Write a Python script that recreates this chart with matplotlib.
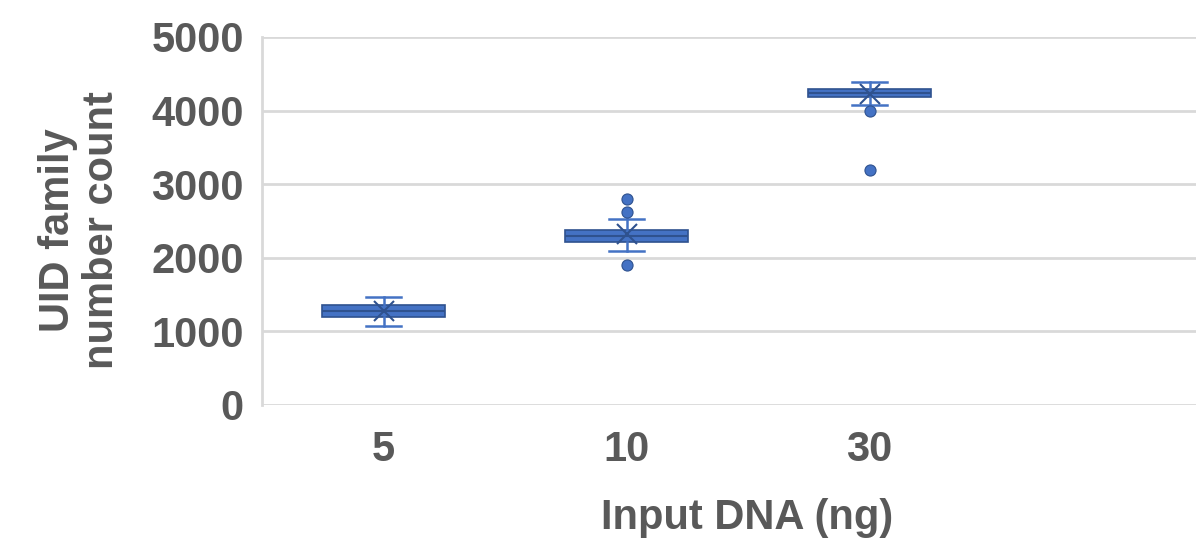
import matplotlib.pyplot as plt

plt.rcParams['font.family'] = ['Liberation Sans', 'DejaVu Sans']

groups = ["5", "10", "30"]
whislo = [1073, 2092, 4076]
q1 = [1196, 2215, 4185]
med = [1277, 2296, 4239]
q3 = [1359, 2378, 4293]
whishi = [1467, 2527, 4389]
means = [1280, 2323, 4230]
fliers = [[], [2799, 2622, 1902], [3995, 3193]]

stats = []
for i in range(len(groups)):
    stats.append(dict(label=groups[i], whislo=whislo[i], q1=q1[i], med=med[i],
                      q3=q3[i], whishi=whishi[i], mean=means[i], fliers=fliers[i]))

fill = "#4472C4"
edge = "#2F528F"
grey = "#595959"

fig = plt.figure(figsize=(11.96, 5.43), dpi=100)
ax = fig.add_axes([262/1196, (543-405)/543, 4*243/1196, 368/543])

ax.bxp(stats, positions=[1, 2, 3], widths=0.506, capwidths=0.148,
       patch_artist=True, showmeans=True, meanline=False,
       boxprops=dict(facecolor=fill, edgecolor=edge, linewidth=1.2),
       medianprops=dict(color=edge, linewidth=1.5),
       whiskerprops=dict(color=fill, linewidth=1.8),
       capprops=dict(color=fill, linewidth=1.8),
       meanprops=dict(marker="x", markeredgecolor=edge, markersize=14, markeredgewidth=1.5),
       flierprops=dict(marker="o", markerfacecolor=fill, markeredgecolor=edge,
                       markersize=8, markeredgewidth=0.8))

ax.set_xlim(0.5, 4.5)
ax.set_ylim(0, 5000)
ax.set_yticks([0, 1000, 2000, 3000, 4000, 5000])
ax.yaxis.grid(True, color="#D9D9D9", linewidth=2)
ax.set_axisbelow(True)
for s in ["top", "right", "bottom"]:
    ax.spines[s].set_visible(False)
ax.spines["left"].set_color("#D9D9D9")
ax.spines["left"].set_linewidth(2)
ax.tick_params(length=0, labelsize=30, colors=grey)
for lb in ax.get_xticklabels() + ax.get_yticklabels():
    lb.set_fontweight("bold")
ax.tick_params(axis="y", pad=13)
ax.tick_params(axis="x", pad=18)

fig.text(80/1196, 1 - 230/543, "UID family\nnumber count", fontsize=30, fontweight="bold",
         color=grey, ha="center", va="center", rotation=90, linespacing=1.15)
fig.text(747/1196, 1 - 518/543, "Input DNA (ng)", fontsize=30, fontweight="bold",
         color=grey, ha="center", va="center")

plt.savefig("out.png", dpi=100)
